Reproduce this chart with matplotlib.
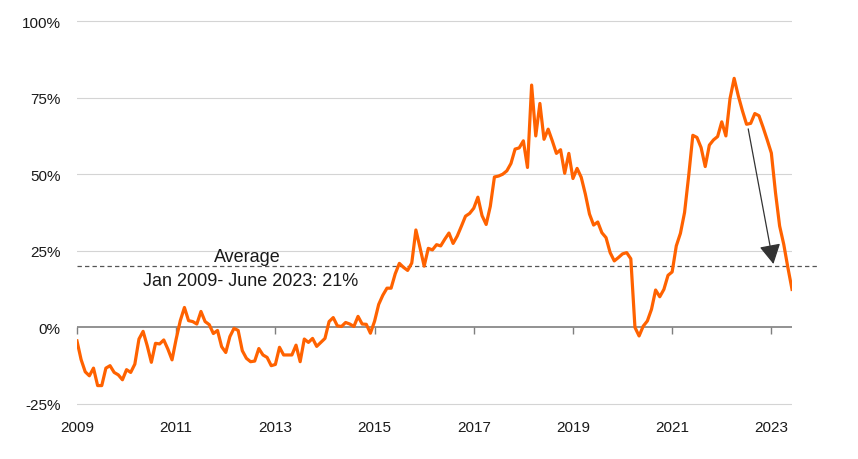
import matplotlib
matplotlib.use('Agg')
import matplotlib.pyplot as plt
import numpy as np
import pandas as pd

plt.rcParams['font.family'] = ['Liberation Sans', 'DejaVu Sans']

# monthly share, Jan 2009 - Jun 2023 (%)
share = [
    -4.4, -10.5, -14.5, -15.8, -13.3, -19.0, -19.0, -13.3, -12.5, -14.7, -15.5, -17.1,
    -13.8, -14.7, -12.0, -3.8, -1.3, -6.0, -11.4, -5.2, -5.4, -4.1, -7.1, -10.6,
    -3.8, 2.2, 6.5, 2.2, 1.9, 1.1, 5.2, 1.9, 0.9, -2.0, -1.0, -6.3,
    -8.2, -3.0, -0.3, -1.0, -7.6, -10.1, -11.2, -11.0, -6.9, -9.0, -9.8, -12.5,
    -12.1, -6.5, -9.0, -9.0, -9.0, -5.8, -11.2, -3.8, -4.9, -3.6, -6.2, -4.9,
    -3.6, 1.9, 3.2, 0.5, 0.3, 1.6, 1.1, 0.3, 3.6, 1.1, 1.0, -1.9,
    2.0, 7.5, 10.5, 12.8, 12.8, 17.5, 20.9, 19.6, 18.6, 21.0, 31.8, 26.0,
    20.0, 25.8, 25.3, 27.0, 26.6, 28.8, 30.8, 27.4, 29.8, 33.0, 36.3, 37.2,
    38.9, 42.5, 36.5, 33.6, 39.5, 49.1, 49.4, 50.0, 51.1, 53.5, 58.2, 58.6,
    60.9, 52.2, 79.1, 62.5, 73.1, 61.4, 64.7, 60.9, 56.8, 58.0, 50.3, 56.8,
    48.6, 51.9, 49.0, 43.5, 37.0, 33.4, 34.4, 30.9, 29.3, 24.4, 21.7, 22.8,
    24.0, 24.4, 22.4, 0.0, -2.8, 0.4, 2.1, 5.9, 12.2, 10.0, 12.4, 17.0,
    18.1, 26.6, 30.7, 37.5, 49.5, 62.7, 62.0, 58.7, 52.5, 59.5, 61.2, 62.3,
    67.1, 62.5, 74.7, 81.3, 75.6, 70.7, 66.3, 66.6, 69.8, 69.1, 65.3, 61.2,
    56.9, 44.0, 33.1, 27.1, 19.5, 12.4,
]
average = 20
avg_label_1 = 'Average'
avg_label_2 = 'Jan 2009- June 2023: 21%'
year_ticks = [2009, 2011, 2013, 2015, 2017, 2019, 2021, 2023]
pct_ticks = [-25, 0, 25, 50, 75, 100]

dates = pd.date_range('2009-01-01', periods=len(share), freq='MS')
x = dates.year + (dates.month - 1) / 12.0

fig = plt.figure(figsize=(8.58, 4.6), dpi=100)
ax = fig.add_axes([0.0897, 0.1063, 0.8334, 0.8591])

ax.set_xlim(x[0], x[-1])
ax.set_ylim(-27, 102)

# grid
for v in pct_ticks:
    if v == 0:
        continue
    ax.axhline(v, color='#d4d4d4', lw=0.8, zorder=1)

# zero line with tick marks
ax.axhline(0, color='#7f7f7f', lw=1.2, zorder=2)
zero_frac = (0 - (-27)) / (102 - (-27))
sec = ax.secondary_xaxis(zero_frac)
sec.set_xticks(year_ticks)
sec.tick_params(axis='x', length=5, width=1.0, color='#7f7f7f', labelbottom=False, direction='out')
sec.spines['bottom'].set_visible(False)

# average line
ax.axhline(average, xmin=0, xmax=(818 - 77) / (792 - 77), color='#555555', lw=0.9,
           dashes=(3.5, 2.5), clip_on=False, zorder=2)

ax.plot(x, share, color='#FF6200', lw=2.3, zorder=3, solid_joinstyle='round')

ax.text(2012.43, 23.0, avg_label_1, ha='center', va='center', fontsize=13, color='#1a1a1a')
ax.text(2012.5, 15.2, avg_label_2, ha='center', va='center', fontsize=13, color='#1a1a1a')

# arrow
ax.annotate('', xy=(2009 + 168.5 / 12, 20.7), xytext=(2009 + 162.4 / 12, 64.8),
            arrowprops=dict(arrowstyle='-|>,head_length=0.55,head_width=0.3', color='#333333', lw=0.9,
                            mutation_scale=22, shrinkA=0, shrinkB=0), zorder=4)

ax.set_xticks(year_ticks)
ax.set_xticklabels([str(y) for y in year_ticks])
ax.set_yticks(pct_ticks)
ax.set_yticklabels([f'{v}%' for v in pct_ticks])
ax.tick_params(axis='both', length=0, labelsize=11, colors='#1a1a1a')
ax.tick_params(axis='x', pad=7)
ax.tick_params(axis='y', pad=11.7)
for s in ax.spines.values():
    s.set_visible(False)

fig.savefig('out.png', dpi=100)
